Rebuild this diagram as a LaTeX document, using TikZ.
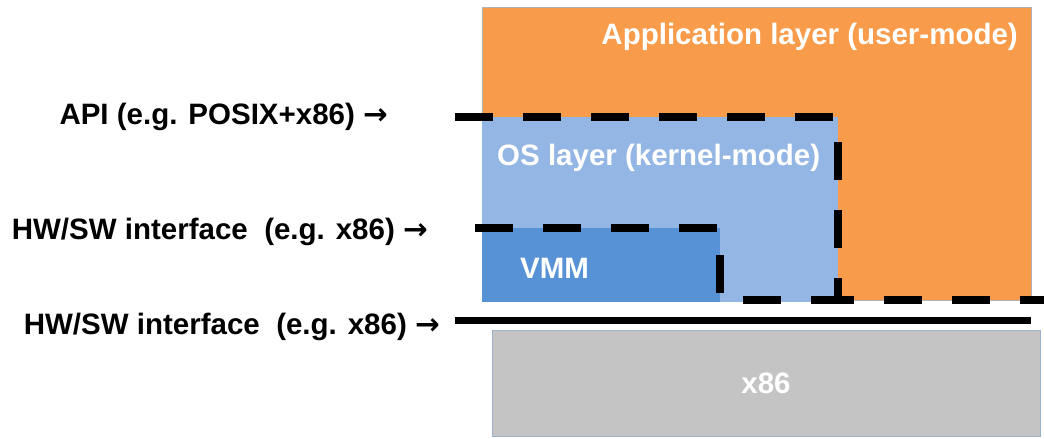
\documentclass[tikz,border=0pt]{standalone}
\usepackage{fontspec}
\setmainfont{Liberation Sans}
\newfontfamily\arrfont{DejaVu Sans}
\usetikzlibrary{positioning}
\definecolor{appcol}{HTML}{F89B4A}
\definecolor{oscol}{HTML}{93B6E4}
\definecolor{vmmcol}{HTML}{5892D6}
\definecolor{hwcol}{HTML}{C4C4C4}
\definecolor{hwedge}{HTML}{9DB3CC}
\newcommand{\rarr}{{\arrfont\bfseries →}}
\begin{document}
\begin{tikzpicture}[
		x=1pt,y=-1pt,
		layer/.style={anchor=north west,inner sep=0pt,outer sep=0pt},
		txt/.style={font=\fontsize{29.5}{33}\selectfont\bfseries,inner sep=0pt},
		intxt/.style={txt,text=white},
		bound/.style={line width=8pt,dash pattern=on 38pt off 30pt}
		]
		\useasboundingbox (0,0) rectangle (1044,439);
		
		% layers
		\node[layer,fill=appcol,draw=black!30,minimum width=549pt,minimum height=293pt] (app) at (482,7) {};
		\node[layer,fill=oscol,minimum width=356pt,minimum height=185pt] (os) at (482,117) {};
		\node[layer,fill=vmmcol,minimum width=238pt,minimum height=74pt] (vmm) at (482,228) {};
		\node[layer,fill=hwcol,draw=hwedge,minimum width=548pt,minimum height=106pt] (hw) at (492,330) {};
		
		\node[intxt,anchor=east] (apptxt) at (1018,37) {Application layer (user-mode)};
		\node[intxt,anchor=west] (ostxt) at (497,158) {OS layer (kernel-mode)};
		\node[intxt,anchor=west] (vmmtxt) at (520,268) {VMM};
		\node[intxt] (hwtxt) at (hw.center) {x86};
		
		% interfaces
		\coordinate (api0) at (455,117);
		\coordinate (api1) at (838,117);
		\coordinate (api2) at (838,300);
		\coordinate (api3) at (1044,300);
		\coordinate (isa0) at (475,228);
		\coordinate (isa1) at (720,228);
		\coordinate (isa2) at (720,300);
		\coordinate (hw0) at (455,320);
		\coordinate (hw1) at (1031,320);
		
		\draw[bound] (api0) -- (api1) -- (api2) -- (api3);
		\draw[bound] (isa0) -- (isa1) -- (isa2) -- (api2);
		\draw[line width=7pt] (hw0) -- (hw1);
		
		\node[txt,left=67pt of api0] (apilbl) {API (e.g. POSIX+x86) \rarr};
		\node[txt,left=47pt of isa0,yshift=-4pt] (isalbl) {HW/SW interface\ \ (e.g. x86) \rarr};
		\node[txt,left=15pt of hw0,yshift=-7pt] (hwlbl) {HW/SW interface\ \ (e.g. x86) \rarr};
	\end{tikzpicture}
\end{document}
